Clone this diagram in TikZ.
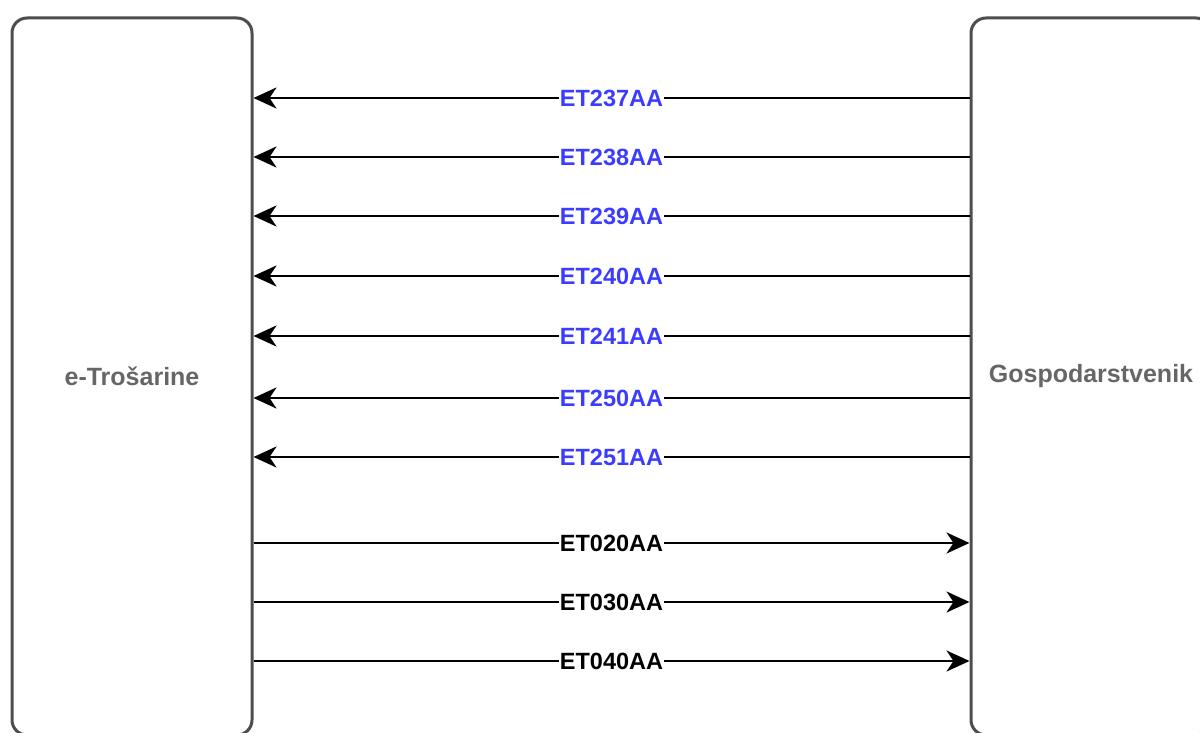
\documentclass[tikz,border=0pt]{standalone}
\usepackage{fontspec}
\setmainfont{Liberation Sans}
\usetikzlibrary{arrows.meta}

\definecolor{boxgray}{RGB}{77,77,77}
\definecolor{labelgray}{RGB}{102,102,102}
\definecolor{msgblue}{RGB}{60,60,255}

\begin{document}
\begin{tikzpicture}[x=1pt, y=-1pt,
    sysbox/.style={draw=boxgray, line width=3pt, rounded corners=15pt,
      minimum width=240pt, minimum height=717pt, text=labelgray,
      font=\fontsize{25}{25}\selectfont\bfseries},
    msg/.style={line width=2.8pt, -{Stealth[length=23pt, width=21pt, inset=7pt]}},
    msglabel/.style={fill=white, inner xsep=1pt, inner ysep=0pt,
      font=\fontsize{23.5}{23.5}\selectfont\bfseries}]

  \useasboundingbox (0,0) rectangle (1200,733);

  \node[sysbox] (etros) at (132,376.5) {e-Trošarine};
  \node[sysbox] (gosp) at (1091,376.5) {Gospodarstvenik};

  \foreach \code/\y in {ET237AA/98, ET238AA/157, ET239AA/216, ET240AA/276,
                        ET241AA/336, ET250AA/398, ET251AA/457}
    \draw[msg] (gosp.west |- 0,\y) -- node[msglabel, text=msgblue] {\code} (etros.east |- 0,\y);

  \foreach \code/\y in {ET020AA/543, ET030AA/602, ET040AA/661}
    \draw[msg] (etros.east |- 0,\y) -- node[msglabel] {\code} (gosp.west |- 0,\y);

\end{tikzpicture}
\end{document}
